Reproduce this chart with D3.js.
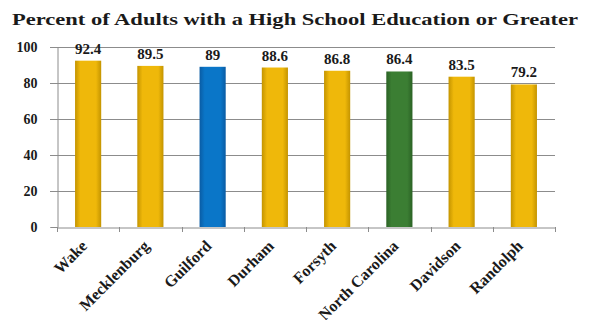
<!DOCTYPE html>
<html><head><meta charset="utf-8">
<script src="https://cdn.jsdelivr.net/npm/d3@7"></script>
<style>body{margin:0;background:#fff}svg{display:block}</style>
</head><body><svg id="c" width="589" height="320"></svg>
<script>
const categories = ["Wake","Mecklenburg","Guilford","Durham","Forsyth","North Carolina","Davidson","Randolph"];
const values = [92.4,89.5,89,88.6,86.8,86.4,83.5,79.2];
const valueLabels = ["92.4","89.5","89","88.6","86.8","86.4","83.5","79.2"];
const colorKeys = ["gold","gold","blue","gold","gold","green","gold","gold"];
const yTicks = [0,20,40,60,80,100];
const title = "Percent of Adults with a High School Education or Greater";

const FONT = "'Liberation Serif', 'Times New Roman', serif";
const svg = d3.select("#c");
const m = {l:57, r:555, t:47, b:227};
const x = d3.scaleBand().domain(categories).range([m.l, m.r]).paddingInner(0.58).paddingOuter(0.29);
const xb = d3.scaleBand().domain(categories).range([m.l, m.r]);
const y = d3.scaleLinear().domain([0,100]).range([m.b, m.t]);

const pal = {gold:["#c49400","#efb80a","#c49400"], blue:["#0a5ca4","#0a76c8","#0a5ca4"], green:["#2b6225","#3b7e33","#2b6225"]};
const defs = svg.append("defs");
Object.entries(pal).forEach(([k,c])=>{
  const g = defs.append("linearGradient").attr("id","g-"+k).attr("x1","0").attr("x2","1").attr("y1","0").attr("y2","0");
  g.append("stop").attr("offset","0").attr("stop-color",c[0]);
  g.append("stop").attr("offset","0.2").attr("stop-color",c[1]);
  g.append("stop").attr("offset","0.8").attr("stop-color",c[1]);
  g.append("stop").attr("offset","1").attr("stop-color",c[0]);
});

function styleText(sel, size){
  sel.style("font-family",FONT).style("font-weight","bold").style("font-size",size+"px").style("fill","#1a1a1a");
  return sel;
}

styleText(svg.append("text").attr("x",12).attr("y",25).attr("textLength",566).attr("lengthAdjust","spacingAndGlyphs").text(title),17);

// gridlines
svg.append("g").selectAll("line").data(yTicks.filter(d=>d>0)).join("line")
  .attr("x1",m.l-7).attr("x2",m.r).attr("y1",d=>y(d)+0.5).attr("y2",d=>y(d)+0.5)
  .attr("stroke","#8c8c8c").attr("stroke-width",1);

// y axis
const ya = svg.append("g").attr("transform",`translate(${m.l+0.5},0)`).call(d3.axisLeft(y).tickValues(yTicks).tickSize(7).tickPadding(13));
ya.select(".domain").attr("stroke","#8c8c8c");
ya.selectAll(".tick line").attr("stroke","#8c8c8c");
styleText(ya.selectAll("text"),14);

// bars
svg.append("g").selectAll("rect").data(categories).join("rect")
  .attr("x",d=>x(d)).attr("width",x.bandwidth())
  .attr("y",(d,i)=>y(values[i])).attr("height",(d,i)=>y(0)-y(values[i]))
  .attr("fill",(d,i)=>`url(#g-${colorKeys[i]})`);

// x axis
const xa = svg.append("g").attr("transform",`translate(0,${m.b+0.5})`).call(d3.axisBottom(xb).tickSize(0).tickFormat(""));
xa.select(".domain").attr("stroke","#8c8c8c");
svg.append("g").selectAll("line").data(d3.range(categories.length+1)).join("line")
  .attr("x1",i=>Math.round(m.l+i*xb.step())+0.5).attr("x2",i=>Math.round(m.l+i*xb.step())+0.5)
  .attr("y1",m.b).attr("y2",m.b+5).attr("stroke","#8c8c8c");

// x labels
styleText(svg.append("g").selectAll("text").data(categories).join("text")
  .attr("transform",d=>`translate(${x(d)+x.bandwidth()/2},${m.b+20}) rotate(-45)`)
  .attr("text-anchor","end").text(d=>d),16);

// value labels
styleText(svg.append("g").selectAll("text").data(categories).join("text")
  .attr("x",d=>x(d)+x.bandwidth()/2).attr("y",(d,i)=>y(values[i])-7)
  .attr("text-anchor","middle").text((d,i)=>valueLabels[i]),15);
</script></body></html>
